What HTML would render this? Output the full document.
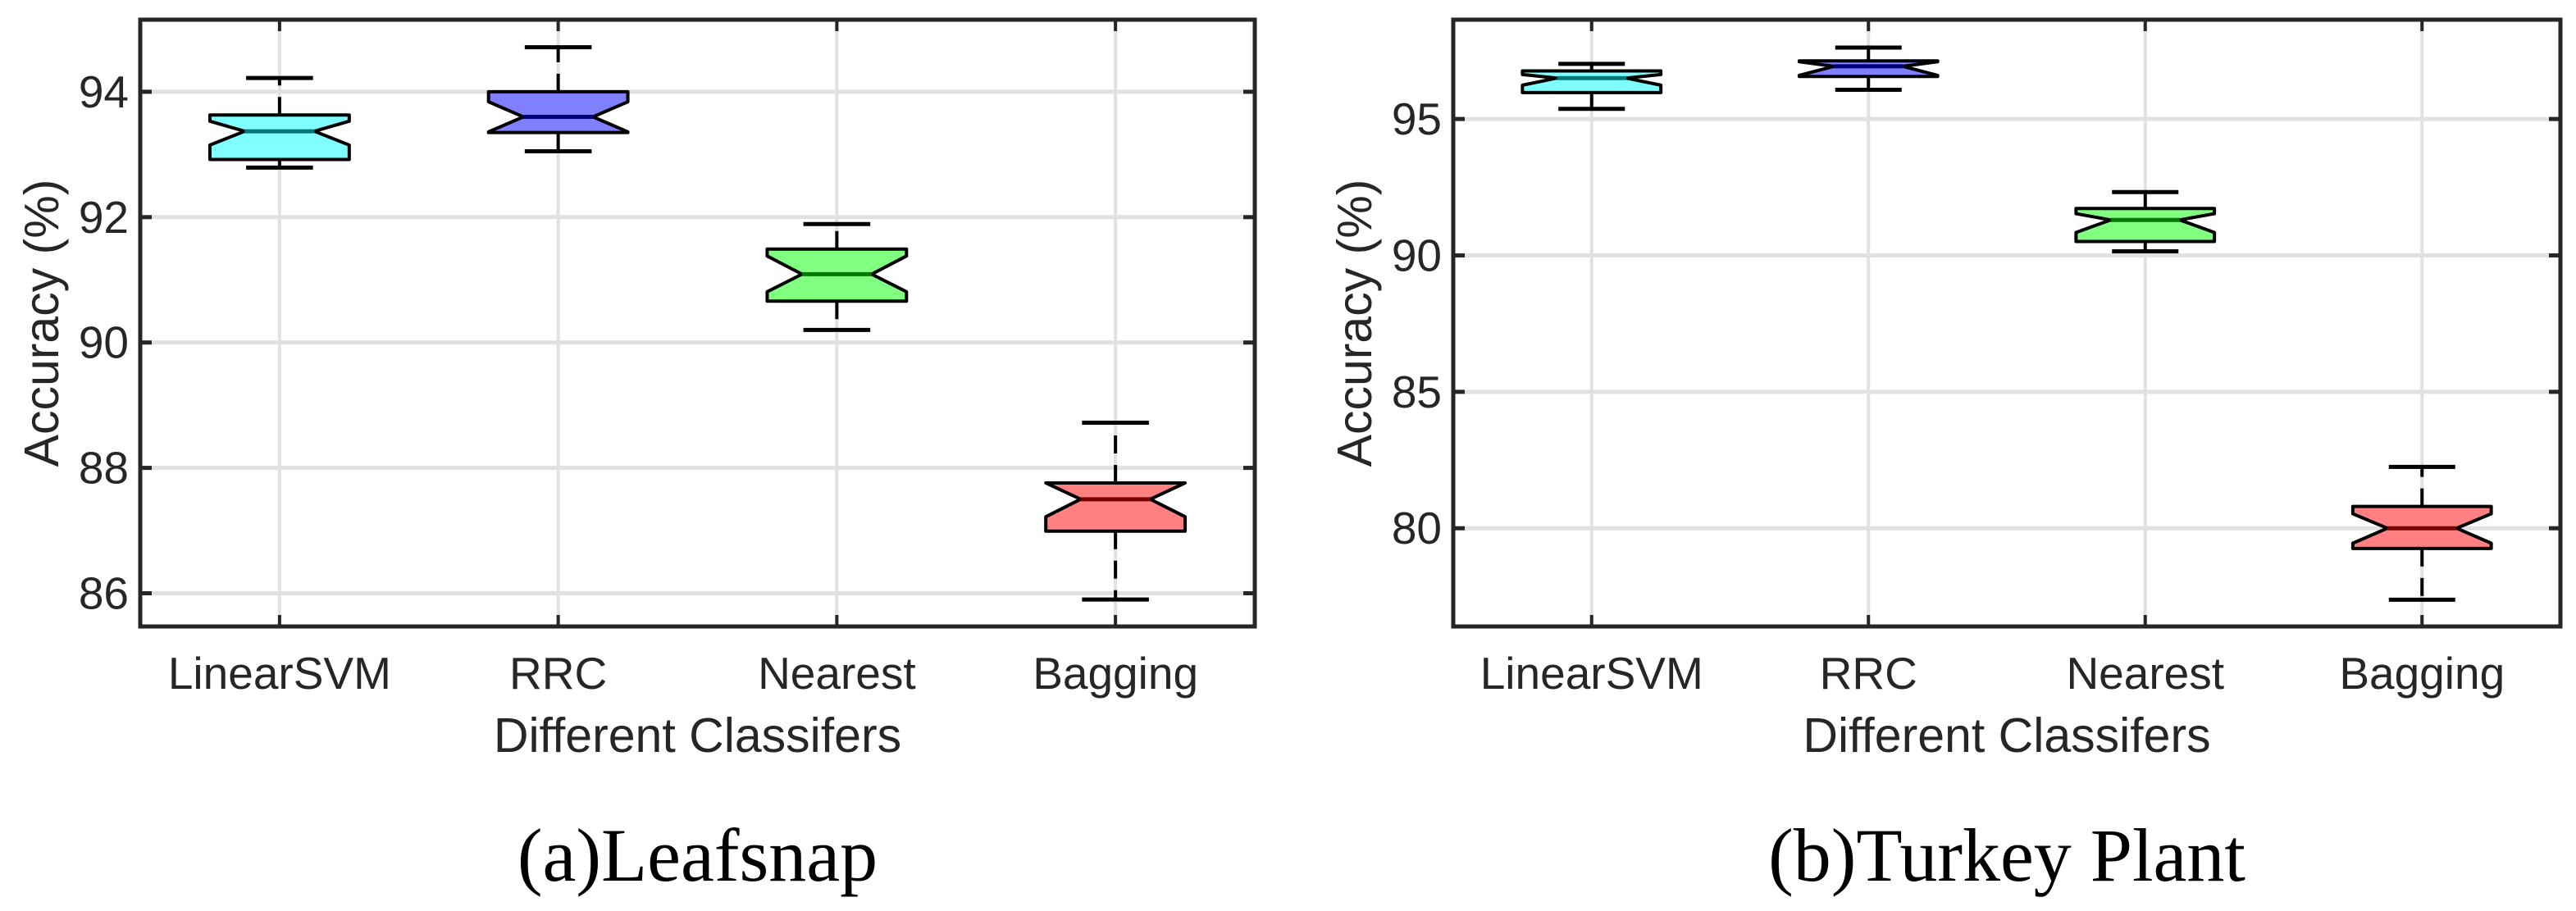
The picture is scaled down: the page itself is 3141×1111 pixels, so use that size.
<!DOCTYPE html>
<html><head><meta charset="utf-8"><style>
html,body{margin:0;padding:0;background:#fff;}
svg{display:block;}
text{font-family:"Liberation Sans",sans-serif;fill:#262626;}
.cap{font-family:"Liberation Serif",serif;fill:#000;}
</style></head><body>
<svg id="fig" width="3141" height="1111" viewBox="0 0 3141 1111" xmlns="http://www.w3.org/2000/svg"></svg>
<script>
const categories = ["LinearSVM","RRC","Nearest","Bagging"];
const fills = ["#80ffff","#8080ff","#80ff80","#ff8080"];
const medColors = ["#007878","#000078","#007800","#780000"];
// Panel A: Leafsnap
const aLow = [92.79, 93.05, 90.20, 85.90];
const aQ1 = [92.92, 93.35, 90.66, 86.99];
const aMed = [93.37, 93.60, 91.09, 87.50];
const aQ3 = [93.63, 94.00, 91.49, 87.76];
const aHigh = [94.22, 94.71, 91.89, 88.72];
const aNotchLo = [93.15, 93.36, 90.81, 87.22];
const aNotchHi = [93.53, 93.84, 91.38, 87.76];
const aTicks = [86, 88, 90, 92, 94];
// Panel B: Turkey Plant
const bLow = [95.37, 96.07, 90.15, 77.38];
const bQ1 = [95.97, 96.56, 90.51, 79.26];
const bMed = [96.50, 96.93, 91.30, 80.00];
const bQ3 = [96.76, 97.13, 91.72, 80.80];
const bHigh = [97.02, 97.62, 92.32, 82.25];
const bNotchLo = [96.24, 96.60, 90.84, 79.45];
const bNotchHi = [96.63, 97.10, 91.53, 80.53];
const bTicks = [80, 85, 90, 95];

const NS = "http://www.w3.org/2000/svg";
const svg = document.getElementById("fig");
function mk(tag, attrs, parent){
  const e = document.createElementNS(NS, tag);
  for (const k in attrs) e.setAttribute(k, attrs[k]);
  (parent||svg).appendChild(e);
  return e;
}

function panel(id, L, R, T, B, ymin, ymax, low, q1, med, q3, high, nlo, nhi, ticks, caption){
  const g = mk("g", {});
  
  
  const sx = i => L + (R - L) * (i + 0.5) / categories.length;
  const sy = v => B - (v - ymin) / (ymax - ymin) * (B - T);
  const step = (R - L) / categories.length;
  ticks.forEach(t => {
    const l = mk("line", {x1:L, x2:R, y1:sy(t), y2:sy(t), stroke:"#e1e1e1", "stroke-width":5}, g);
    
    
  });
  categories.forEach((c, i) => {
    const l = mk("line", {x1:sx(i), x2:sx(i), y1:T, y2:B, stroke:"#e1e1e1", "stroke-width":4}, g);
    
    
  });
  categories.forEach((c, i) => {
    const bg = mk("g", {}, g);
    
    
    const x = sx(i), w = step * 0.25, cw = step * 0.12;
    const dash = "22,14";
    mk("line", {x1:x, x2:x, y1:sy(q3[i]), y2:sy(high[i]), stroke:"#000", "stroke-width":4, "stroke-dasharray":dash}, bg);
    mk("line", {x1:x, x2:x, y1:sy(q1[i]), y2:sy(low[i]), stroke:"#000", "stroke-width":4, "stroke-dasharray":dash}, bg);
    mk("line", {x1:x-cw, x2:x+cw, y1:sy(high[i]), y2:sy(high[i]), stroke:"#000", "stroke-width":5}, bg);
    mk("line", {x1:x-cw, x2:x+cw, y1:sy(low[i]), y2:sy(low[i]), stroke:"#000", "stroke-width":5}, bg);
    const hi = Math.min(nhi[i], q3[i]), lo = Math.max(nlo[i], q1[i]);
    const pts = [[x-w,sy(q3[i])],[x-w,sy(hi)],[x-w/2,sy(med[i])],[x-w,sy(lo)],[x-w,sy(q1[i])],
                 [x+w,sy(q1[i])],[x+w,sy(lo)],[x+w/2,sy(med[i])],[x+w,sy(hi)],[x+w,sy(q3[i])]];
    mk("polygon", {points: pts.map(p => p.join(",")).join(" "), fill:fills[i], stroke:"#000", "stroke-width":4, "stroke-linejoin":"round"}, bg);
    mk("line", {x1:x-w/2, x2:x+w/2, y1:sy(med[i]), y2:sy(med[i]), stroke:medColors[i], "stroke-width":5}, bg);
  });
  const ax = mk("rect", {x:L, y:T, width:R-L, height:B-T, fill:"none", stroke:"#262626", "stroke-width":5}, g);
  
  
  ticks.forEach(t => {
    mk("line", {x1:L, x2:L+14, y1:sy(t), y2:sy(t), stroke:"#262626", "stroke-width":5}, g);
    mk("line", {x1:R-14, x2:R, y1:sy(t), y2:sy(t), stroke:"#262626", "stroke-width":5}, g);
    const tx = mk("text", {x:L-14, y:sy(t)+19, "text-anchor":"end", "font-size":55}, g);
    tx.textContent = t;
    
    
  });
  categories.forEach((c, i) => {
    mk("line", {x1:sx(i), x2:sx(i), y1:B-14, y2:B, stroke:"#262626", "stroke-width":4}, g);
    mk("line", {x1:sx(i), x2:sx(i), y1:T, y2:T+14, stroke:"#262626", "stroke-width":4}, g);
    const tx = mk("text", {x:sx(i), y:840, "text-anchor":"middle", "font-size":55}, g);
    tx.textContent = c;
    
    
  });
  const xl = mk("text", {x:(L+R)/2, y:917, "text-anchor":"middle", "font-size":59}, g);
  xl.textContent = "Different Classifers";
  
  
  const yl = mk("text", {x:0, y:0, "text-anchor":"middle", "font-size":59, transform:"translate(" + (L-100) + "," + ((T+B)/2) + ") rotate(-90)"}, g);
  yl.textContent = "Accuracy (%)";
  
  
  const cp = mk("text", {x:(L+R)/2, y:1074, "text-anchor":"middle", "font-size":92, class:"cap"}, g);
  cp.textContent = caption;
  
  
}

panel("leafsnap", 171, 1530, 24, 764, 85.47, 95.15, aLow, aQ1, aMed, aQ3, aHigh, aNotchLo, aNotchHi, aTicks, "(a)Leafsnap");
panel("turkey-plant", 1772, 3122, 24, 764, 76.4, 98.64, bLow, bQ1, bMed, bQ3, bHigh, bNotchLo, bNotchHi, bTicks, "(b)Turkey Plant");
</script>
</body></html>
